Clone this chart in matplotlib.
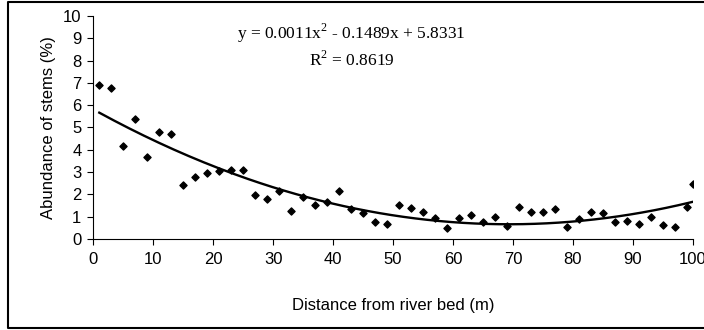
import numpy as np
import matplotlib.pyplot as plt
from matplotlib.lines import Line2D

# distance from river bed (m) and abundance of stems (%)
distance = [1, 3, 5, 7, 9, 11, 13, 15, 17, 19, 21, 23, 25, 27, 29, 31, 33,
            35, 37, 39, 41, 43, 45, 47, 49, 51, 53, 55, 57, 59, 61, 63, 65,
            67, 69, 71, 73, 75, 77, 79, 81, 83, 85, 87, 89, 91, 93, 95, 97,
            99, 100]
abundance = [6.91, 6.79, 4.19, 5.38, 3.69, 4.81, 4.69, 2.41, 2.80, 2.97,
             3.05, 3.09, 3.09, 1.97, 1.78, 2.15, 1.27, 1.90, 1.51, 1.64,
             2.15, 1.33, 1.15, 0.78, 0.69, 1.51, 1.38, 1.20, 0.94, 0.49,
             0.94, 1.06, 0.76, 1.00, 0.56, 1.45, 1.20, 1.20, 1.33, 0.55,
             0.88, 1.20, 1.15, 0.76, 0.82, 0.69, 1.00, 0.63, 0.55, 1.45,
             2.47]

eq_text = 'y = 0.0011x$^2$ - 0.1489x + 5.8331'
r2_text = 'R$^2$ = 0.8619'

plt.rcParams['font.family'] = ['Liberation Sans', 'DejaVu Sans']
plt.rcParams['mathtext.fontset'] = 'custom'
plt.rcParams['mathtext.rm'] = 'Liberation Serif'

fig = plt.figure(figsize=(7.04, 3.30), dpi=100)
ax = fig.add_axes([0.1325, 0.2758, 0.8515, 0.6757])

ax.scatter(distance, abundance, marker='D', s=13, color='black', zorder=3)

# polynomial trend line (order 2), like the spreadsheet one
coef = np.polyfit(distance, abundance, 2)
xs = np.linspace(distance[0], distance[-1], 200)
ax.plot(xs, np.polyval(coef, xs), color='black', lw=1.7)

ax.set_xlim(0, 100)
ax.set_ylim(0, 10)
ax.set_xticks(np.arange(0, 101, 10))
ax.set_yticks(np.arange(0, 11, 1))
ax.tick_params(direction='out', length=4.5, width=0.8, labelsize=12, colors='black')
ax.tick_params(axis='x', pad=5)
ax.tick_params(axis='y', pad=4)
for s in ['top', 'right']:
    ax.spines[s].set_visible(False)
ax.set_xlabel('Distance from river bed (m)', fontsize=12, labelpad=22)
ax.set_ylabel('Abundance of stems (%)', fontsize=12, labelpad=5)

ax.text(0.431, 0.924, eq_text, transform=ax.transAxes, ha='center', va='center',
        fontsize=12.5, family='Liberation Serif')
ax.text(0.432, 0.803, r2_text, transform=ax.transAxes, ha='center', va='center',
        fontsize=12.5, family='Liberation Serif')

# chart area border (right side cut off in the original)
fig.lines.append(Line2D([1.0, 8 / 704, 8 / 704, 1.0], [1 - 2 / 330, 1 - 2 / 330, 2 / 330, 2 / 330],
                        transform=fig.transFigure, color='black', lw=1.5))

plt.savefig('out.png', dpi=100)
